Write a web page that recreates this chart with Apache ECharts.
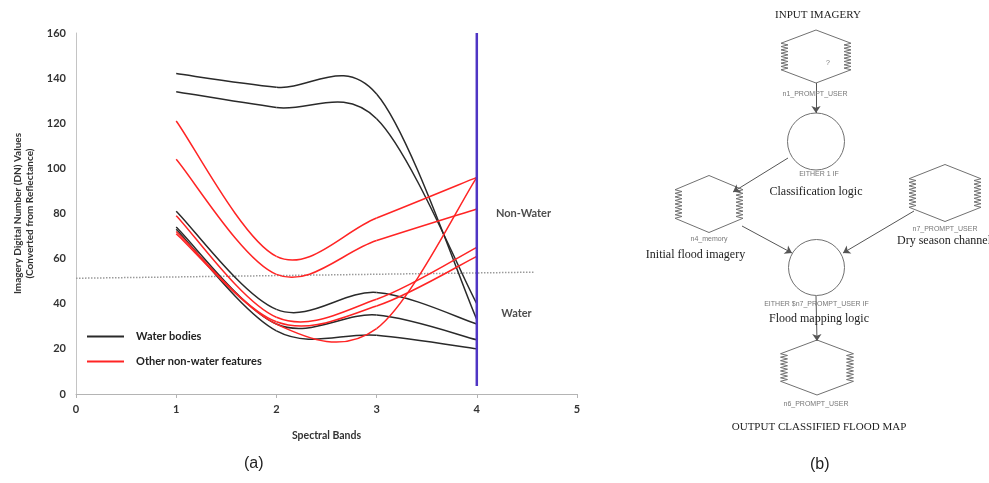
<!DOCTYPE html>
<html>
<head>
<meta charset="utf-8">
<script src="https://cdn.jsdelivr.net/npm/echarts@6/dist/echarts.min.js"></script>
<style>html,body{margin:0;background:#fff}#chart{width:989px;height:483px}</style>
</head>
<body>
<div id="chart"></div>
<script>
"use strict";
// ---- (a) spectral profiles, one row per sampled feature, values at bands 1..4 ----
const BANDS = [1, 2, 3, 4];
const WATER = [
  [142, 136, 133, 33],
  [134, 127, 122, 40],
  [81, 37.5, 45, 31],
  [74, 31, 35, 24],
  [73, 28, 26, 20]];
const NON_WATER = [
  [121, 61, 78, 96],
  [104, 53, 68, 82],
  [79, 34, 42, 65],
  [72, 32, 39, 61],
  [71, 31, 29, 96]];
const THRESHOLD = [[0, 51.3], [4.57, 54]];
const DIVIDER = [[4, 3.5], [4, 160]];
const ZONES = [[4.466, 80, "Non-Water"], [4.396, 35.8, "Water"]];

// ---- (b) flow diagram, panel units (1 unit = 1 px of the panel) ----
// node: [x, y, width, height, kind]  kind 0 = zig-zag hexagon, 1 = circle
const NODES = [
  [167, 56.5, 70, 53, 0],
  [167, 141.5, 57, 57, 1],
  [60, 204, 68, 57, 0],
  [296, 193, 72, 57, 0],
  [167.5, 267.5, 56, 56, 1],
  [168, 367.5, 73, 55, 0]];
const EDGES = [
  [[167, 83], [167, 113]],
  [[139, 158], [84, 192]],
  [[93, 226], [143, 253]],
  [[265, 211], [194, 253]],
  [[167, 296], [168, 341]]];
const TEXTS = ["INPUT IMAGERY", "?", "n1_PROMPT_USER", "EITHER 1 IF", "Classification logic",
  "n4_memory", "Initial flood imagery", "n7_PROMPT_USER", "Dry season channel",
  "EITHER $n7_PROMPT_USER IF", "Flood mapping logic", "n6_PROMPT_USER", "OUTPUT CLASSIFIED FLOOD MAP"];
const TEXT_AT = [[169, 15], [179, 63], [166, 94], [170, 174], [167, 192],
  [60, 239], [46.5, 255], [296, 229], [248, 241],
  [167.5, 304], [170, 319], [167, 404], [170, 427]];
const TEXT_KIND = [0, 2, 2, 2, 1, 2, 1, 2, 3, 2, 1, 2, 0];

const SANS = "Lato, 'Liberation Sans', sans-serif";
const SERIF = "'Liberation Serif', 'DejaVu Serif', serif";
const TEXT_STYLE = [
  { font: `11px ${SERIF}`, fill: "#222", align: "center" },
  { font: `12px ${SERIF}`, fill: "#222", align: "center" },
  { font: `7px 'Liberation Sans', sans-serif`, fill: "#777", align: "center" },
  { font: `12px ${SERIF}`, fill: "#222", align: "left" }];
const BLACK = "#2a2a2a", RED = "#ff2424";

const chart = echarts.init(document.getElementById("chart"), null, { renderer: "canvas" });

// Excel-style smoothed line: Catmull-Rom through the band points, drawn in pixel space
function renderProfile(color) {
  return (params, api) => {
    const p = BANDS.map((b, k) => api.coord([b, api.value(k)]));
    const T = 1 / 6, n = p.length, children = [];
    for (let i = 0; i < n - 1; i++) {
      const a = p[Math.max(i - 1, 0)], b = p[i], c = p[i + 1], d = p[Math.min(i + 2, n - 1)];
      children.push({ type: "bezierCurve",
        shape: { x1: b[0], y1: b[1], x2: c[0], y2: c[1],
          cpx1: b[0] + (c[0] - a[0]) * T, cpy1: b[1] + (c[1] - a[1]) * T,
          cpx2: c[0] - (d[0] - b[0]) * T, cpy2: c[1] - (d[1] - b[1]) * T },
        style: { stroke: color, fill: null, lineWidth: 1.5 } });
    }
    return { type: "group", children };
  };
}

function renderNode(params, api) {
  const c = api.coord([api.value(0), api.value(1)]);
  const s = api.size([api.value(2), api.value(3)]);
  const w = Math.abs(s[0]), h = Math.abs(s[1]);
  const style = { fill: "#fff", stroke: "#707070", lineWidth: 1 };
  if (api.value(4) === 1) return { type: "circle", shape: { cx: c[0], cy: c[1], r: w / 2 }, style };
  const xl = c[0] - w / 2, xr = c[0] + w / 2, y0 = c[1] - h * 0.25, y1 = c[1] + h * 0.25;
  const n = 16, amp = 7, pts = [[c[0], c[1] - h / 2]];
  for (let k = 0; k <= n; k++) pts.push([k % 2 ? xr - amp : xr, y0 + (y1 - y0) * k / n]);
  pts.push([c[0], c[1] + h / 2]);
  for (let k = 0; k <= n; k++) pts.push([k % 2 ? xl + amp : xl, y1 - (y1 - y0) * k / n]);
  return { type: "polygon", shape: { points: pts }, style };
}

function renderText(params, api) {
  const c = api.coord([api.value(0), api.value(1)]);
  const st = TEXT_STYLE[api.value(2)];
  return { type: "text", x: c[0], y: c[1],
    style: { text: TEXTS[params.dataIndex], font: st.font, fill: st.fill, align: st.align, verticalAlign: "middle" } };
}

chart.setOption({
  animation: false,
  textStyle: { fontFamily: SANS },
  grid: [{ left: 76, top: 33, width: 501, height: 361 },
         { left: 649, top: 0, width: 340, height: 483 }],
  legend: {
    data: ["Water bodies", "Other non-water features"], orient: "vertical", icon: "rect",
    left: 82, top: 326, itemWidth: 37, itemHeight: 2, itemGap: 14,
    textStyle: { fontFamily: SANS, fontSize: 11, fontWeight: "bold", color: "#222", padding: [0, 0, 0, 7] } },
  xAxis: [
    { type: "value", gridIndex: 0, min: 0, max: 5, interval: 1,
      name: "Spectral Bands", nameLocation: "middle", nameGap: 36,
      nameTextStyle: { fontSize: 10.5, fontWeight: "bold", color: "#333" },
      axisLine: { lineStyle: { color: "#b4b4b4" } },
      axisTick: { show: true, length: 4, lineStyle: { color: "#b4b4b4" } },
      axisLabel: { margin: 10, fontSize: 11, fontWeight: "bold", color: "#333" },
      splitLine: { show: false } },
    { type: "value", gridIndex: 1, min: 0, max: 340, show: false }],
  yAxis: [
    { type: "value", gridIndex: 0, min: 0, max: 160, interval: 20,
      name: "Imagery Digital Number (DN) Values\n(Converted from Reflectance)",
      nameLocation: "middle", nameGap: 40, nameRotate: 90,
      nameTextStyle: { fontSize: 10, fontWeight: "bold", color: "#333", lineHeight: 12 },
      axisLine: { show: true, lineStyle: { color: "#c4c4c4" } },
      axisTick: { show: false },
      axisLabel: { margin: 10, fontSize: 11, fontWeight: "bold", color: "#333" },
      splitLine: { show: false } },
    { type: "value", gridIndex: 1, min: 0, max: 483, inverse: true, show: false }],
  graphic: [
    { type: "text", left: 244, top: 456, style: { text: "(a)", font: "16px 'Liberation Sans', sans-serif", fill: "#222" } },
    { type: "text", left: 810, top: 457, style: { text: "(b)", font: "16px 'Liberation Sans', sans-serif", fill: "#222" } }],
  series: [
    { name: "Water bodies", type: "custom", xAxisIndex: 0, yAxisIndex: 0, data: WATER,
      renderItem: renderProfile(BLACK), itemStyle: { color: BLACK }, silent: true, z: 3 },
    { name: "Other non-water features", type: "custom", xAxisIndex: 0, yAxisIndex: 0, data: NON_WATER,
      renderItem: renderProfile(RED), itemStyle: { color: RED }, silent: true, z: 3 },
    { name: "threshold", type: "line", data: THRESHOLD, symbol: "none", silent: true, z: 2,
      lineStyle: { color: "#9a9a9a", width: 1.5, type: "dotted" } },
    { name: "divider", type: "line", data: DIVIDER, symbol: "none", silent: true, z: 4,
      lineStyle: { color: "#4f35c4", width: 2.5 } },
    { name: "zones", type: "scatter", data: ZONES, symbolSize: 0, silent: true,
      label: { show: true, position: "inside", formatter: (p) => p.value[2],
        fontFamily: SANS, fontSize: 11, fontWeight: "bold", color: "#222" } },
    { name: "edges", type: "lines", coordinateSystem: "cartesian2d", xAxisIndex: 1, yAxisIndex: 1,
      data: EDGES.map((e) => ({ coords: e })), symbol: ["none", "arrow"], symbolSize: 7,
      lineStyle: { color: "#555", width: 1, opacity: 1 }, silent: true, z: 5 },
    { name: "nodes", type: "custom", xAxisIndex: 1, yAxisIndex: 1, renderItem: renderNode,
      data: NODES, silent: true, z: 4 },
    { name: "texts", type: "custom", xAxisIndex: 1, yAxisIndex: 1, renderItem: renderText,
      data: TEXT_AT.map((p, i) => [p[0], p[1], TEXT_KIND[i]]), silent: true, z: 6 }]
});
</script>
</body>
</html>
